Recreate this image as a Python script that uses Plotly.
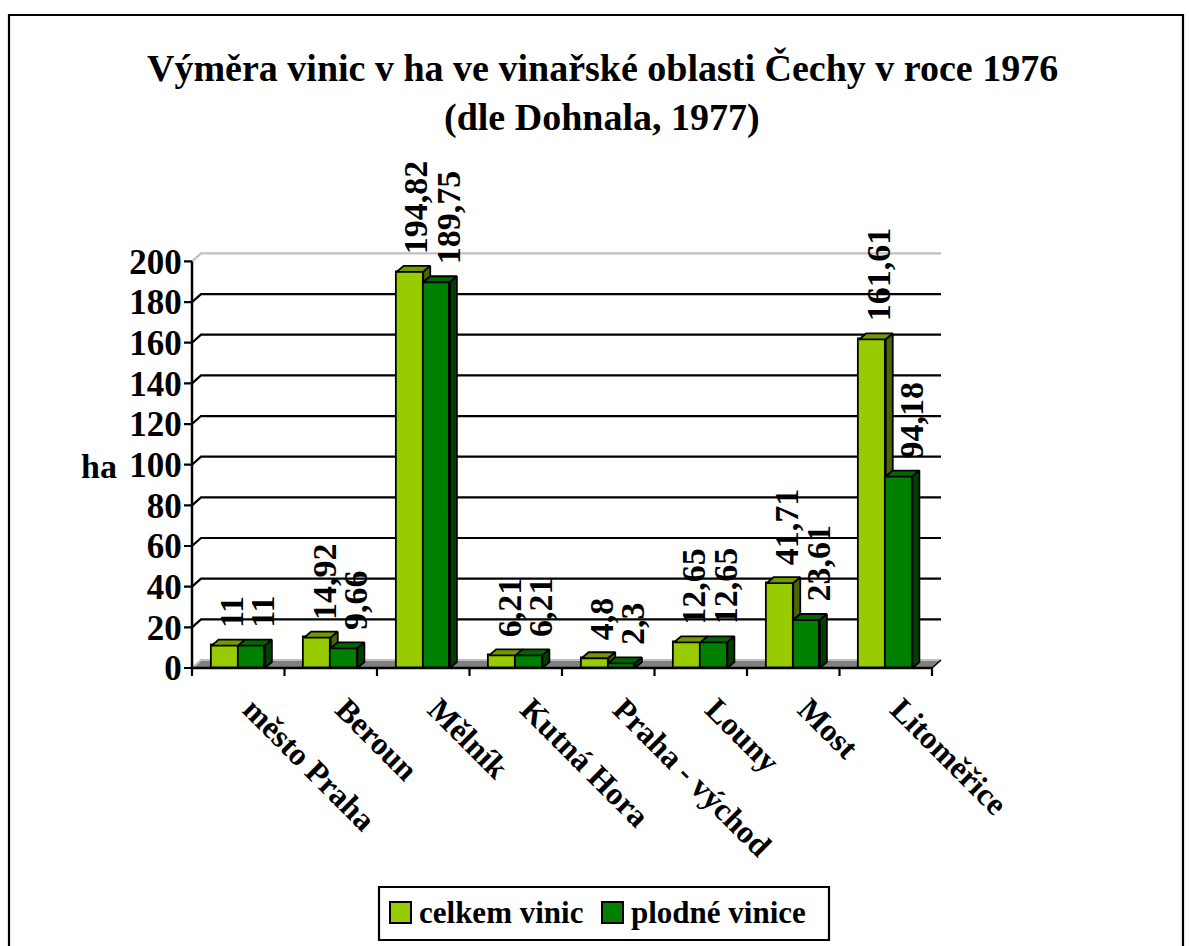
import plotly.graph_objects as go

# ---------------- data ----------------
categories = ["město Praha", "Beroun", "Mělník", "Kutná Hora",
              "Praha - východ", "Louny", "Most", "Litoměřice"]
celkem_vinic = [11, 14.92, 194.82, 6.21, 4.8, 12.65, 41.71, 161.61]
plodne_vinice = [11, 9.66, 189.75, 6.21, 2.3, 12.65, 23.61, 94.18]
series_names = ["celkem vinic", "plodné vinice"]
y_ticks = [0, 20, 40, 60, 80, 100, 120, 140, 160, 180, 200]
title_lines = ["Výměra vinic v ha ve vinařské oblasti Čechy v roce 1976",
               "(dle Dohnala, 1977)"]
y_title = "ha"

# ---------------- layout geometry ----------------
W, H = 1189, 946
FONT = "Liberation Serif"
X0PX, PXU = 192.0, 92.5     # pixel of x=-0.5, pixels per category
Y0PX, PYU = 668.0, 2.033    # pixel of y=0, pixels per unit
XR = [-0.6, 7.7]
YR = [-4, 206]
left = X0PX + (XR[0] + 0.5) * PXU
right = X0PX + (XR[1] + 0.5) * PXU
bottom = Y0PX - YR[0] * PYU
top = Y0PX - YR[1] * PYU

BW = 0.288                  # bar width (category units)
BDX, BDY = 7 / PXU, 6 / PYU   # bar depth
WDX, WDY = 9 / PXU, 8 / PYU   # wall depth
EDGE = 1.8

light, light_top, light_side = "#99CC00", "#739900", "#4D6600"
dark, dark_top, dark_side = "#008000", "#006600", "#004000"


def px(x):
    return x / W


def py(y):
    return 1 - y / H


n = len(categories)
idx = list(range(n))
xmin, xmax = -0.5, n - 0.5

fig = go.Figure()
shapes = []

# floor
shapes.append(dict(type="path", xref="x", yref="y", layer="below",
                   path=f"M{xmin},0 L{xmax},0 L{xmax+WDX},{WDY} L{xmin+WDX},{WDY} Z",
                   fillcolor="#808080", line=dict(width=0)))
# gridlines on back wall + left wall diagonals
for v in y_ticks:
    col = "black" if 0 < v < y_ticks[-1] else "#C0C0C0"
    shapes.append(dict(type="path", xref="x", yref="y", layer="below",
                       path=f"M{xmin},{v} L{xmin+WDX},{v+WDY} L{xmax+WDX},{v+WDY}",
                       line=dict(color=col, width=2.2)))
    # y tick
    shapes.append(dict(type="line", xref="x", yref="y", layer="below",
                       x0=xmin - 8 / PXU, x1=xmin, y0=v, y1=v,
                       line=dict(color="black", width=2.2)))
# right floor edge
shapes.append(dict(type="line", xref="x", yref="y", layer="below",
                   x0=xmax, y0=0, x1=xmax + WDX, y1=WDY,
                   line=dict(color="black", width=1.5)))
# axes
shapes.append(dict(type="line", xref="x", yref="y", layer="below",
                   x0=xmin, x1=xmin, y0=0, y1=y_ticks[-1],
                   line=dict(color="black", width=2.5)))
shapes.append(dict(type="line", xref="x", yref="y", layer="below",
                   x0=xmin, x1=xmax, y0=0, y1=0,
                   line=dict(color="black", width=2.5)))
for k in range(n + 1):
    shapes.append(dict(type="line", xref="x", yref="y", layer="below",
                       x0=xmin + k, x1=xmin + k, y0=0, y1=-8 / PYU,
                       line=dict(color="black", width=2.2)))

# front faces of bars
fig.add_trace(go.Bar(x=idx, y=celkem_vinic, width=BW, offset=-BW, name=series_names[0],
                     marker=dict(color=light, line=dict(color="black", width=EDGE)),
                     showlegend=False, hoverinfo="y"))
fig.add_trace(go.Bar(x=idx, y=plodne_vinice, width=BW, offset=0, name=series_names[1],
                     marker=dict(color=dark, line=dict(color="black", width=EDGE)),
                     showlegend=False, hoverinfo="y"))


def polys(list_of_pts):
    xs, ys = [], []
    for pts in list_of_pts:
        for (a, b) in pts:
            xs.append(a)
            ys.append(b)
        xs.append(pts[0][0])
        ys.append(pts[0][1])
        xs.append(None)
        ys.append(None)
    return xs, ys


def add_poly(pts_list, color):
    xs, ys = polys(pts_list)
    fig.add_trace(go.Scatter(x=xs, y=ys, mode="lines", fill="toself", fillcolor=color,
                             line=dict(color="black", width=EDGE), showlegend=False,
                             hoverinfo="skip"))


lt, ls, dtp, dsd = [], [], [], []
for i, (vl, vd) in enumerate(zip(celkem_vinic, plodne_vinice)):
    c = i
    x0 = c - BW
    lt.append([(x0, vl), (x0 + BW, vl), (x0 + BW + BDX, vl + BDY), (x0 + BDX, vl + BDY)])
    lo = min(vd, vl)
    ls.append([(c, lo), (c + BDX, lo + BDY), (c + BDX, vl + BDY), (c, vl)])
    dtp.append([(c, vd), (c + BW, vd), (c + BW + BDX, vd + BDY), (c + BDX, vd + BDY)])
    dsd.append([(c + BW, 0), (c + BW + BDX, BDY), (c + BW + BDX, vd + BDY), (c + BW, vd)])
add_poly(lt, light_top)
add_poly(ls, light_side)
add_poly(dtp, dark_top)
add_poly(dsd, dark_side)

annotations = []
# value labels
for vals, off, xs in ((celkem_vinic, -BW / 2, 3), (plodne_vinice, BW / 2, 8)):
    for i, v in enumerate(vals):
        annotations.append(dict(x=i + off + BDX / 2, y=v + BDY, xref="x", yref="y",
                                text=f"{v:g}".replace(".", ","), showarrow=False,
                                textangle=-90, xanchor="center", yanchor="bottom",
                                yshift=10, xshift=xs,
                                font=dict(family=FONT, size=34, color="black", weight="bold")))
# title
annotations.append(dict(x=px(602), y=py(68), xref="paper", yref="paper", text=title_lines[0],
                        showarrow=False, xanchor="center", yanchor="middle",
                        font=dict(family=FONT, size=38, color="black", weight="bold")))
annotations.append(dict(x=px(602), y=py(118), xref="paper", yref="paper", text=title_lines[1],
                        showarrow=False, xanchor="center", yanchor="middle",
                        font=dict(family=FONT, size=38, color="black", weight="bold")))
# y title
annotations.append(dict(x=px(99), y=py(467), xref="paper", yref="paper", text=y_title,
                        showarrow=False, xanchor="center", yanchor="middle",
                        font=dict(family=FONT, size=34, color="black", weight="bold")))

# legend (drawn)
shapes.append(dict(type="rect", xref="paper", yref="paper", x0=px(379), x1=px(829),
                   y0=py(887), y1=py(940), line=dict(color="black", width=2.2),
                   fillcolor="white"))
for sx, col, name, tx in ((390, light, series_names[0], 417), (602, dark, series_names[1], 629)):
    shapes.append(dict(type="rect", xref="paper", yref="paper", x0=px(sx), x1=px(sx + 21),
                       y0=py(902), y1=py(923), line=dict(color="black", width=2),
                       fillcolor=col))
    annotations.append(dict(x=px(tx), y=py(912), xref="paper", yref="paper", text=name,
                            showarrow=False, xanchor="left", yanchor="middle",
                            font=dict(family=FONT, size=31, color="black", weight="bold")))

# outer border
shapes.append(dict(type="rect", xref="paper", yref="paper", x0=px(9), x1=px(1183),
                   y0=py(970), y1=py(15), line=dict(color="black", width=2.2), layer="below"))

fig.update_layout(
    width=W, height=H, margin=dict(l=0, r=0, t=0, b=0),
    paper_bgcolor="white", plot_bgcolor="rgba(0,0,0,0)",
    showlegend=False, barmode="overlay", bargap=0,
    shapes=shapes, annotations=annotations,
    xaxis=dict(domain=[px(left), px(right)], range=XR, tickvals=idx, ticktext=categories,
               tickangle=45, showgrid=False, zeroline=False, showline=False, ticks="",
               ticklabelshift=14, ticklabelstandoff=7,
               tickfont=dict(family=FONT, size=32, color="black", weight="bold"),
               automargin=False, fixedrange=True),
    yaxis=dict(domain=[py(bottom), py(top)], range=YR, tickvals=y_ticks,
               ticktext=[str(t) for t in y_ticks],
               showgrid=False, zeroline=False, showline=False, ticks="",
               tickfont=dict(family=FONT, size=35, color="black", weight="bold"),
               automargin=False, fixedrange=True),
)

fig.write_html("out.html", config={"displayModeBar": False},
               post_script="document.body.style.margin='0';document.body.style.overflow='hidden';")
